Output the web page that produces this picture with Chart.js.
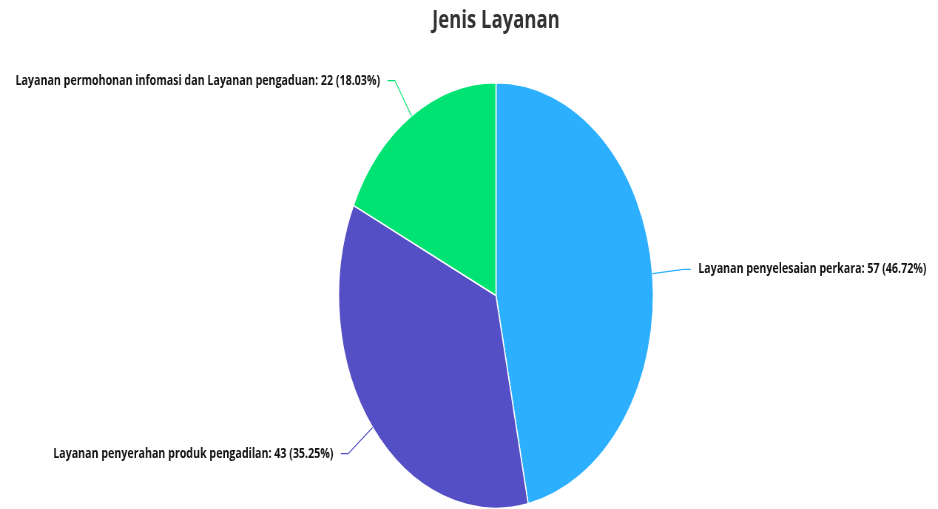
<!DOCTYPE html>
<html>
<head>
<meta charset="utf-8">
<script src="https://cdn.jsdelivr.net/npm/chart.js@4/dist/chart.umd.min.js"></script>
<style>
  html, body { margin: 0; padding: 0; background: #ffffff; overflow: hidden; }
  #wrap { width: 1268px; height: 509px; transform: scaleX(0.7397); transform-origin: 0 0; }
  canvas { display: block; }
</style>
</head>
<body>
<div id="wrap"><canvas id="c" width="1268" height="509"></canvas></div>
<script>
const chartTitle = 'Jenis Layanan';
const categories = [
  'Layanan penyelesaian perkara',
  'Layanan penyerahan produk pengadilan',
  'Layanan permohonan infomasi dan Layanan pengaduan'
];
const values = [57, 43, 22];
const colors = ['#2caffe', '#544fc5', '#00e272'];

const total = values.reduce((a, b) => a + b, 0);

const outLabels = {
  id: 'outLabels',
  afterDatasetsDraw(chart) {
    const ctx = chart.ctx;
    const meta = chart.getDatasetMeta(0);
    ctx.save();
    ctx.font = 'bold 14.4px "Open Sans", sans-serif';
    ctx.textBaseline = 'middle';
    meta.data.forEach((arc, i) => {
      const p = arc.getProps(['x', 'y', 'startAngle', 'endAngle', 'outerRadius'], true);
      const mid = (p.startAngle + p.endAngle) / 2;
      const c = Math.cos(mid), s = Math.sin(mid);
      const x0 = p.x + p.outerRadius * c, y0 = p.y + p.outerRadius * s;
      const ext = 42;
      const x1 = x0 + ext * c, y1 = y0 + ext * s;
      const dir = c >= 0 ? 1 : -1;
      const x2 = x1 + 10 * dir;
      ctx.strokeStyle = colors[i];
      ctx.lineWidth = 1.2;
      ctx.beginPath();
      ctx.moveTo(x0, y0);
      ctx.lineTo(x1, y1);
      ctx.lineTo(x2, y1);
      ctx.stroke();
      const pct = (values[i] / total * 100).toFixed(2);
      const txt = categories[i] + ': ' + values[i] + ' (' + pct + '%)';
      ctx.fillStyle = '#111111';
      ctx.textAlign = dir > 0 ? 'left' : 'right';
      ctx.fillText(txt, x2 + 10 * dir, y1);
    });
    ctx.restore();
  }
};

new Chart(document.getElementById('c'), {
  type: 'pie',
  data: {
    labels: categories,
    datasets: [{
      data: values,
      backgroundColor: colors,
      borderColor: '#ffffff',
      borderWidth: 1.5,
      hoverOffset: 0,
      offset: 0
    }]
  },
  options: {
    responsive: false,
    animation: false,
    devicePixelRatio: 1,
    layout: { padding: { left: 73, right: 0, top: 0, bottom: 0 } },
    plugins: {
      legend: { display: false },
      tooltip: { enabled: false },
      title: {
        display: true,
        text: chartTitle,
        color: '#333333',
        font: { family: '"Open Sans", sans-serif', size: 25, weight: 'bold', lineHeight: 1.2 },
        padding: { top: 6, bottom: 46 }
      }
    }
  },
  plugins: [outLabels]
});
</script>
</body>
</html>
